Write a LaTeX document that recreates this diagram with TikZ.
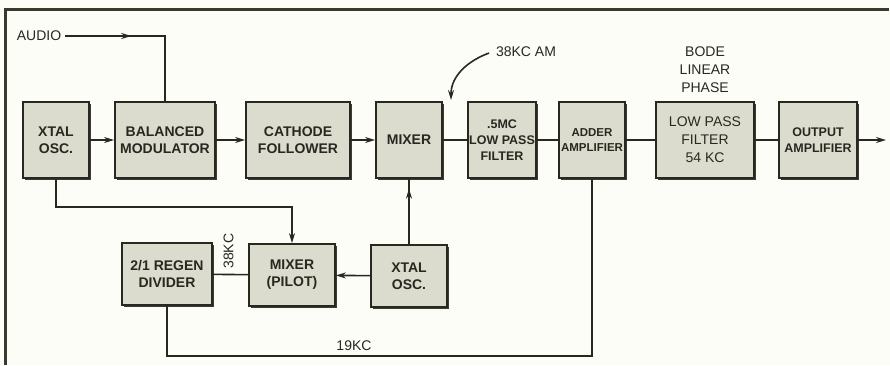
\documentclass[tikz,border=0pt]{standalone}
\usepackage{fontspec}
\setmainfont{Liberation Sans}
\usetikzlibrary{arrows.meta, positioning, shadows, decorations.markings}
\definecolor{ink}{RGB}{40,40,32}
\definecolor{boxfill}{RGB}{220,220,206}
\definecolor{framecol}{RGB}{58,58,44}
\definecolor{paper}{RGB}{253,253,248}

\begin{document}
\begin{tikzpicture}[
    x=1pt, y=-1pt,
    font=\fontsize{14}{16}\selectfont,
    line width=1.6pt, color=ink,
    >={Stealth[length=10pt,width=6pt]},
    block/.style={rectangle, draw=ink, fill=boxfill, line width=1.8pt, minimum width=#1, minimum height=76pt, align=center, inner sep=1pt, font=\fontsize{14}{17}\selectfont\bfseries, drop shadow={shadow xshift=1.8pt, shadow yshift=-1.8pt, fill=ink, opacity=0.9}},
    low/.style={minimum height=62pt},
    tight/.style={inner xsep=-3pt, font=\fontsize{12.5}{16}\selectfont\bfseries},
    midarrow/.style={postaction={decorate}, decoration={markings, mark=at position #1 with {\arrow{>}}}},
]
    % Page and frame
    \fill[paper] (0,0) rectangle (890,365);
    \useasboundingbox (0,0) rectangle (890,365);
    \draw[framecol, line width=3pt] (5,365) -- (5,9) -- (889,9);

    % Main chain
    \node[block=66pt] (xtal) at (56,140) {XTAL\\OSC.};
    \node[block=100pt] (balmod) at (165,140) {BALANCED\\MODULATOR};
    \node[block=104pt] (cathode) at (298,140) {CATHODE\\FOLLOWER};
    \node[block=66pt] (mixer) at (409,140) {MIXER};
    \node[block=68pt, tight] (lpfive) at (502,140) {.5MC\\LOW PASS\\FILTER};
    \node[block=66pt, tight, font=\fontsize{11.5}{15}\selectfont\bfseries] (adder) at (592,140) {ADDER\\AMPLIFIER};
    \node[block=98pt, font=\fontsize{14}{18}\selectfont] (lpf) at (705,140) {LOW PASS\\FILTER\\54 KC};
    \node[block=78pt, font=\fontsize{12.5}{16}\selectfont\bfseries] (outamp) at (818,140) {OUTPUT\\AMPLIFIER};

    % Pilot chain
    \node[block=90pt, low] (regen) at (167,274) {2/1 REGEN\\DIVIDER};
    \node[block=86pt, low] (pilot) at (292,275) {MIXER\\(PILOT)};
    \node[block=76pt, low] (xtalb) at (409,276) {XTAL\\OSC.};

    % Labels
    \node (audio) at (39,36) {AUDIO};
    \node (am) at (526,52) {38KC AM};
    \node[align=center, font=\fontsize{14}{18}\selectfont] (bode) at (705,70) {BODE\\LINEAR\\PHASE};
    \coordinate (out) at (886,140);
    \coordinate (amtip) at (451,100);

    % Arrows
    \draw[midarrow=0.4] (audio.east) -| (balmod.north);
    \draw[->] (xtal) -- (balmod);
    \draw[->] (balmod) -- (cathode);
    \draw[->] (cathode) -- (mixer);
    \draw (mixer) -- (lpfive);
    \draw (lpfive) -- (adder);
    \draw (adder) -- (lpf);
    \draw (lpf) -- (outamp);
    \draw[->] (outamp) -- (out);
    \draw[->] (xtal.south) -- ++(0,28) -| (pilot.north);
    \draw[midarrow=0.85] (xtalb.north) -- (mixer.south);
    \draw[->] (xtalb) -- (pilot);
    \draw (pilot) -- node[rotate=90, anchor=west, inner sep=5pt, yshift=2pt] {38KC} (regen);
    \draw (regen.south) -- ++(0,50) -| node[pos=0.22, above=1pt] {19KC} (adder.south);
    \draw[->, shorten <=3pt] (am.west) to[out=200, in=90] (amtip);

\end{tikzpicture}
\end{document}
